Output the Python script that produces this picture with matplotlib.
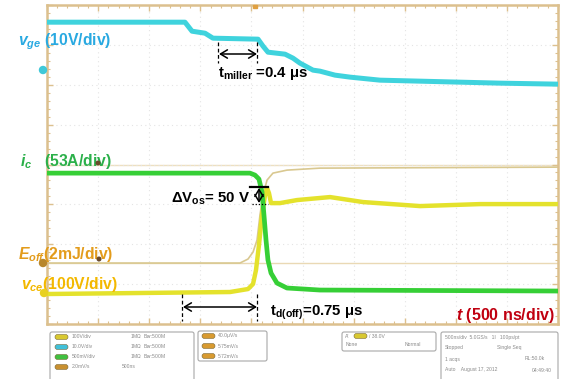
import matplotlib
matplotlib.use("Agg")
import matplotlib.pyplot as plt
from matplotlib.lines import Line2D
from matplotlib.patches import FancyBboxPatch, Circle
from matplotlib.ticker import MultipleLocator

plt.rcParams['font.family'] = ['Liberation Sans', 'DejaVu Sans']
plt.rcParams['mathtext.fontset'] = 'custom'
plt.rcParams['mathtext.it'] = 'Liberation Sans:bold:italic'
plt.rcParams['mathtext.rm'] = 'Liberation Sans:bold'
plt.rcParams['mathtext.bf'] = 'Liberation Sans:bold'

# ---------------- data (time in microseconds) ----------------
T_VGE = [0.000, 1.350, 1.419, 1.546, 1.624, 2.065, 2.114, 2.162, 2.329, 2.407,
         2.476, 2.603, 2.671, 2.818, 2.965, 3.258, 3.650, 4.041, 4.432, 5.000]
VGE = [12.03, 12.03, 9.77, 9.27, 8.02, 7.77, 6.01, 4.51, 4.01, 3.01,
       1.75, 0.00, -0.25, -1.25, -1.75, -2.51, -2.76, -3.01, -3.26, -3.51]   # V

T_IC = [0.000, 1.986, 2.035, 2.074, 2.104, 2.123, 2.143, 2.162, 2.192, 2.250,
        2.348, 2.671, 5.000]
IC = [156.7, 156.7, 154.1, 148.8, 131.5, 100.9, 67.7, 41.2, 23.9, 10.6,
      4.0, 1.3, 0.0]   # A

T_VCE = [0.000, 1.791, 1.967, 2.016, 2.045, 2.074, 2.104, 2.133, 2.153, 2.172,
         2.192, 2.280, 2.446, 2.769, 3.092, 3.650, 4.237, 5.000]
VCE = [-2.5, 2.5, 10.0, 22.6, 57.6, 120.3, 195.5, 245.6, 263.1, 250.6,
       225.5, 225.5, 233.1, 240.6, 228.1, 218.0, 223.0, 223.0]   # V

T_EOFF = [0.000, 1.888, 1.967, 2.016, 2.055, 2.084, 2.114, 2.153, 2.211, 2.348,
          2.671, 5.000]
EOFF = [0.00, 0.00, 0.20, 0.55, 1.15, 2.41, 3.41, 4.16, 4.51, 4.66, 4.76, 4.81]  # mJ

# channel scale (units per division) and ground level (screen divisions)
SCALE = {'vge': 10.0, 'ic': 53.0, 'vce': 100.0, 'eoff': 2.0}
GROUND = {'vge': 6.366, 'ic': 0.827, 'vce': 0.777, 'eoff': 1.529}

W, H = 567, 379
fig = plt.figure(figsize=(W / 100, H / 100), dpi=100)
fig.patch.set_facecolor('white')

L, R, T, B = 47, 558, 5, 324
ax = fig.add_axes([L / W, 1 - B / H, (R - L) / W, (B - T) / H])
ax.set_xlim(0, 5)
ax.set_ylim(0, 8)
ax.set_facecolor('white')

BORDER = '#dcc08e'
for s in ax.spines.values():
    s.set_color(BORDER)
    s.set_linewidth(1.8)
ax.xaxis.set_major_locator(MultipleLocator(0.5))
ax.xaxis.set_minor_locator(MultipleLocator(0.1))
ax.yaxis.set_major_locator(MultipleLocator(1))
ax.yaxis.set_minor_locator(MultipleLocator(0.2))
ax.tick_params(which='both', direction='in', colors=BORDER, top=True, right=True,
               labelbottom=False, labelleft=False)
ax.tick_params(which='major', length=4, width=1)
ax.tick_params(which='minor', length=2.5, width=0.8)
ax.grid(True, which='major', color='#e4e4e4', linestyle=(0, (1, 3)), linewidth=0.8)

# reference lines
ax.axhline(4.0, color='#eee0c0', lw=1.0, zorder=1)
ax.axhline(GROUND['eoff'], color='#ead9b4', lw=1.0, zorder=1)


def scr(vals, ch):
    return [GROUND[ch] + v / SCALE[ch] for v in vals]


ax.plot(T_EOFF, scr(EOFF, 'eoff'), color='#d9c890', lw=1.2, zorder=2)
ax.plot(T_VCE, scr(VCE, 'vce'), color='#e4e22c', lw=3.2, zorder=3,
        solid_joinstyle='round', solid_capstyle='butt')
ax.plot(T_IC, scr(IC, 'ic'), color='#36cf36', lw=3.4, zorder=4,
        solid_joinstyle='round', solid_capstyle='butt')
ax.plot(T_VGE, scr(VGE, 'vge'), color='#3fd3dd', lw=3.6, zorder=5,
        solid_joinstyle='round', solid_capstyle='butt')


def P(x, y):
    """image pixel -> figure pixel"""
    return (x, H - y)


# channel markers on left border
for (x, y, c) in [(43, 70, '#3fc8d8'), (43, 263, '#b8862a'), (44, 293, '#e8d020')]:
    fig.patches.append(Circle(P(x, y), 3.5, transform=None, color=c, zorder=10))
for (x, y) in [(98, 163), (99, 259)]:
    fig.patches.append(Circle(P(x, y), 1.8, transform=None, color='#6b4a2a', zorder=10))
fig.patches.append(FancyBboxPatch(P(253, 8), 4, 3, boxstyle='square,pad=0',
                                  transform=None, color='#e0a040', zorder=10))

FS = 11.3


def txt(x, y, s, color, fs=FS, **kw):
    fig.text(x / W, 1 - y / H, s, color=color, fontsize=fs, fontweight='bold',
             ha='left', va='baseline', **kw)


txt(18, 45, r'$v_{ge}$ (10V/div)', '#29a9e1')
txt(20, 166, r'$i_{c}$   (53A/div)', '#2bb04a')
txt(18, 259, r'$E_{off}$(2mJ/div)', '#e39c1c')
txt(21, 289, r'$v_{ce}$(100V/div)', '#f3b800')
txt(218, 77, r't$_\mathrm{miller}$ =0.4 μs', 'black', fs=10.8)
txt(171, 203, r'ΔV$_\mathrm{os}$= 50 V', 'black', fs=10.8)
txt(270, 316, r't$_\mathrm{d(off)}$=0.75 μs', 'black', fs=10.8)
txt(456, 320, r'$t$ (500 ns/div)', '#c00010', fs=11.5)


def seg(x0, y0, x1, y1, **kw):
    fig.add_artist(Line2D([x0, x1], [H - y0, H - y1], transform=None, **kw))


def darrow(x0, y0, x1, y1):
    fig.add_artist(matplotlib.patches.FancyArrowPatch(
        P(x0, y0), P(x1, y1), transform=None, arrowstyle='<->,head_length=5,head_width=3',
        color='black', lw=1.1, shrinkA=0, shrinkB=0, zorder=12))


# t_miller
darrow(219, 54, 257, 54)
seg(218, 42, 218, 63, color='black', lw=0.9, ls=(0, (3, 2)), zorder=12)
seg(257, 42, 257, 63, color='black', lw=0.9, ls=(0, (3, 2)), zorder=12)
# t_d(off)
darrow(183, 307, 257, 307)
seg(182, 294, 182, 321, color='black', lw=0.9, ls=(0, (3, 2)), zorder=12)
seg(257, 294, 257, 321, color='black', lw=0.9, ls=(0, (3, 2)), zorder=12)
# delta Vos
seg(250, 187, 268, 187, color='black', lw=1.6, zorder=12)
seg(252, 204, 268, 204, color='black', lw=0.9, ls=(0, (1, 1.5)), zorder=12)
darrow(259, 188, 259, 203)

# ---------------- status panels ----------------
GREY = '#8a8a8a'
SFS = 3.6


def panel(x0, y0, x1, y1):
    fig.patches.append(FancyBboxPatch(P(x0, y1), x1 - x0, y1 - y0,
                                      boxstyle='round,pad=0,rounding_size=2',
                                      transform=None, fc='white', ec='#a8a8a8',
                                      lw=0.8, zorder=5))


def pill(x, y, c):
    fig.patches.append(FancyBboxPatch(P(x, y + 2.5), 13, 5,
                                      boxstyle='round,pad=0,rounding_size=2.5',
                                      transform=None, fc=c, ec='#7a6a3a', lw=0.4,
                                      zorder=6))


def small(x, y, s):
    fig.text(x / W, 1 - y / H, s, color=GREY, fontsize=SFS, ha='left', va='center',
             zorder=7)


panel(50, 332, 194, 385)
rows1 = [(337, '#d8c830', '100V/div', '1MΩ  B$_W$:500M'),
         (347, '#40c0d8', '10.0V/div', '1MΩ  B$_W$:500M'),
         (357, '#40c040', '500mV/div', '1MΩ  B$_W$:500M'),
         (367, '#c89030', '2.0mV/s', '500ns')]
for y, c, a, b in rows1:
    pill(55, y, c)
    small(72, y, a)
    small(130 if 'MΩ' in b else 122, y, b)

panel(198, 331, 267, 361)
for y, s in [(336, '40.0μV/s'), (346, '5.75mV/s'), (356, '5.72mV/s')]:
    pill(202, y, '#d89a30')
    small(218, y, s)

panel(342, 332, 436, 351)
pill(354, 336, '#d8c830')
small(345, 336, "A'")
small(369, 336, '/ 38.0V')
small(346, 345, 'None')
small(405, 345, 'Normal')

panel(441, 332, 558, 385)
small(445, 337, '500ns/div  5.0GS/s   1I   100ps/pt')
small(445, 348, 'Stopped')
small(497, 348, 'Single Seq')
small(445, 359, '1 acqs')
small(525, 359, 'RL:50.0k')
small(445, 370, 'Auto    August 17, 2012')
small(532, 370, '04:49:40')
fig.text(548 / W, 1 - 345 / H, '↓', color='#333333', fontsize=7, fontweight='bold',
         ha='center', va='center', family='DejaVu Sans')

fig.savefig('out.png', dpi=100, facecolor='white')
